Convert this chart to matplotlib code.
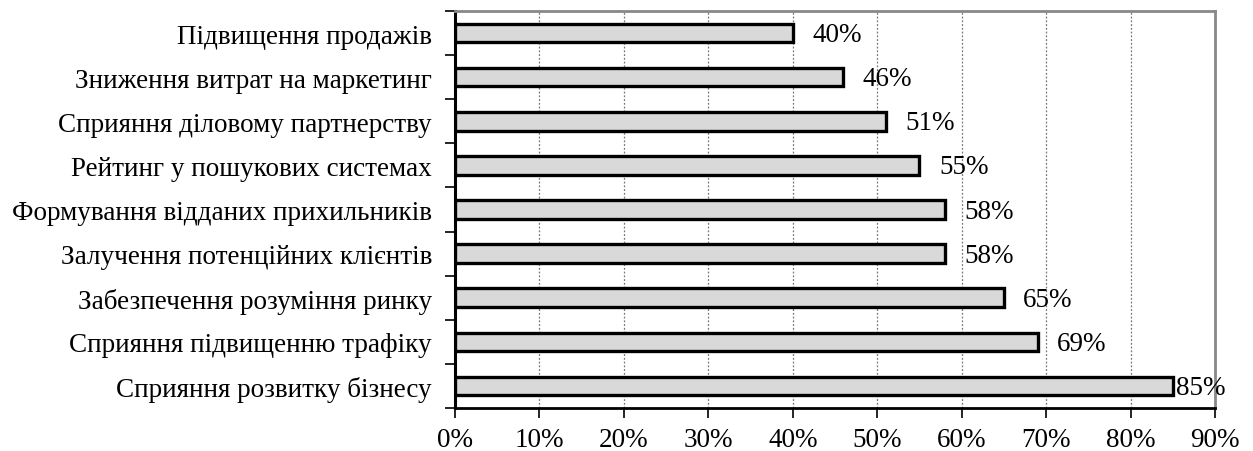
import matplotlib
matplotlib.use("Agg")
import matplotlib.pyplot as plt
from matplotlib.ticker import MultipleLocator, PercentFormatter

categories = [
    "Підвищення продажів",
    "Зниження витрат на маркетинг",
    "Сприяння діловому партнерству",
    "Рейтинг у пошукових системах",
    "Формування відданих прихильників",
    "Залучення потенційних клієнтів",
    "Забезпечення розуміння ринку",
    "Сприяння підвищенню трафіку",
    "Сприяння розвитку бізнесу",
]
values = [40, 46, 51, 55, 58, 58, 65, 69, 85]
label_pads = [14, 14, 14, 14, 14, 14, 14, 14, 2]

plt.rcParams['font.family'] = ['Liberation Serif', 'DejaVu Serif']

fig = plt.figure(figsize=(12.53, 4.52), dpi=100)
ax = fig.add_axes([455/1253, 1 - 409/452, (1215-455)/1253, (409-12)/452])

y = list(range(len(categories)))
bars = ax.barh(y, values, height=0.42, color="#d9d9d9", edgecolor="black", linewidth=2.4, zorder=3)
ax.set_ylim(len(categories) - 0.5, -0.5)
ax.set_xlim(0, 90)
ax.set_yticks(y)
ax.set_yticklabels(categories, fontsize=19.5)
ax.tick_params(axis='y', length=0, pad=16.5)
ax.set_yticks([i - 0.5 for i in range(len(categories) + 1)], minor=True)
ax.tick_params(axis='y', which='minor', length=7, width=1.2, direction='out')
ax.xaxis.set_major_locator(MultipleLocator(10))
ax.xaxis.set_major_formatter(PercentFormatter(decimals=0))
ax.tick_params(axis='x', labelsize=19.5, length=7, width=1.2, direction='out', pad=6.5)
ax.grid(axis='x', color='#777777', linestyle=(0, (1.5, 1.5)), linewidth=0.9, zorder=0)

for b, v, p in zip(bars, values, label_pads):
    ax.annotate(f"{v}%", xy=(b.get_width(), b.get_y() + b.get_height()/2),
                xytext=(p, 1), textcoords='offset points', va='center_baseline', ha='left',
                fontsize=19.5, zorder=5)

ax.spines['left'].set_linewidth(2.2)
ax.spines['bottom'].set_linewidth(2.0)
ax.spines['top'].set_color('#888888')
ax.spines['top'].set_linewidth(2.0)
ax.spines['right'].set_color('#888888')
ax.spines['right'].set_linewidth(2.0)

fig.savefig("out.png", dpi=100)
